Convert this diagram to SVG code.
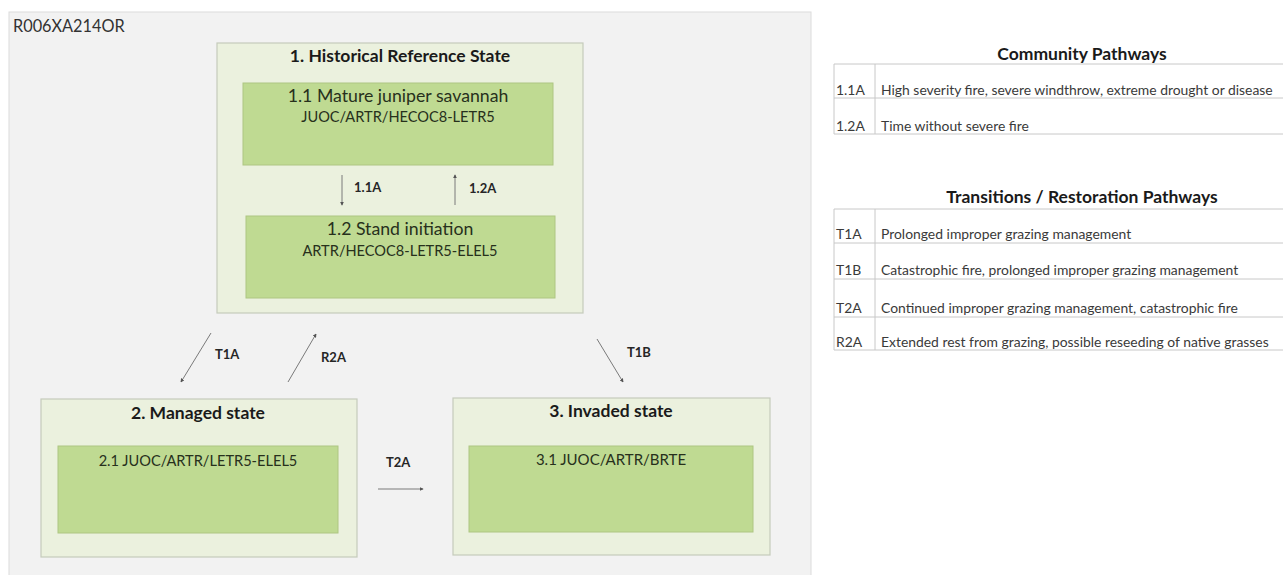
<svg xmlns="http://www.w3.org/2000/svg" width="1283" height="575" viewBox="0 0 1283 575">
<style>
  text { font-family: Lato, "Liberation Sans", sans-serif; }
  .panel { fill: #f2f2f2; stroke: #dcdcdc; stroke-width: 1; }
  .state { fill: #ebf1de; stroke: #c5cbbb; stroke-width: 1.2; }
  .comm { fill: #bfda92; stroke: #aec682; stroke-width: 1; }
  .stitle { font-size: 17.5px; font-weight: bold; fill: #1a1a1a; text-anchor: middle; }
  .ctitle { font-size: 17.7px; fill: #27301c; text-anchor: middle; }
  .csub { font-size: 14.6px; fill: #27301c; text-anchor: middle; }
  .conn { stroke: #7a7a7a; stroke-width: 1; fill: none; marker-end: url(#arr); }
  .clabel { font-size: 13px; font-weight: bold; fill: #262626; }
  .lhead { font-size: 17.5px; font-weight: bold; fill: #1a1a1a; text-anchor: middle; }
  .ltext { font-size: 13.9px; fill: #3a3a3a; }
  .tline { stroke: #c8c8c8; stroke-width: 1; fill: none; }
</style>
<defs>
  <marker id="arr" viewBox="0 0 6 6" refX="5" refY="3" markerWidth="4" markerHeight="4" orient="auto" markerUnits="userSpaceOnUse">
    <path d="M0,0 L6,3 L0,6 z" fill="#555"/>
  </marker>
</defs>
<rect x="0" y="0" width="1283" height="575" fill="#ffffff"/>
<rect class="panel" x="9" y="12" width="802" height="570"/>
<text x="13" y="32" style="font-size:16.3px;fill:#333">R006XA214OR</text>

<g id="state1">
  <rect class="state" x="217" y="43" width="366" height="270"/>
  <text class="stitle" x="400" y="62">1. Historical Reference State</text>
</g>
<g id="c11">
  <rect class="comm" x="243" y="83" width="310" height="82"/>
  <text class="ctitle" x="398" y="102">1.1 Mature juniper savannah</text>
  <text class="csub" x="398" y="122">JUOC/ARTR/HECOC8-LETR5</text>
</g>
<g id="c12">
  <rect class="comm" x="246" y="216" width="309" height="82"/>
  <text class="ctitle" x="400" y="235">1.2 Stand initiation</text>
  <text class="csub" x="400" y="256">ARTR/HECOC8-LETR5-ELEL5</text>
</g>
<g id="state2">
  <rect class="state" x="41" y="399" width="316" height="158"/>
  <text class="stitle" x="198" y="419">2. Managed state</text>
</g>
<g id="c21">
  <rect class="comm" x="58" y="446" width="280" height="87"/>
  <text class="csub" x="198" y="466">2.1 JUOC/ARTR/LETR5-ELEL5</text>
</g>
<g id="state3">
  <rect class="state" x="453" y="398" width="317" height="157"/>
  <text class="stitle" x="611" y="417">3. Invaded state</text>
</g>
<g id="c31">
  <rect class="comm" x="469" y="446" width="284" height="86"/>
  <text class="csub" x="611" y="465" style="font-size:15px">3.1 JUOC/ARTR/BRTE</text>
</g>

<g id="connectors">
  <line class="conn" x1="342" y1="175" x2="342" y2="205"/>
  <line class="conn" x1="455" y1="205" x2="455" y2="175"/>
  <line class="conn" x1="211" y1="333" x2="181" y2="382"/>
  <line class="conn" x1="288" y1="382" x2="316" y2="334"/>
  <line class="conn" x1="597" y1="339" x2="623" y2="382"/>
  <line class="conn" x1="378" y1="489" x2="423" y2="489"/>
  <text class="clabel" x="354" y="192">1.1A</text>
  <text class="clabel" x="469" y="193">1.2A</text>
  <text class="clabel" x="215" y="359">T1A</text>
  <text class="clabel" x="321" y="362">R2A</text>
  <text class="clabel" x="627" y="357">T1B</text>
  <text class="clabel" x="386" y="467">T2A</text>
</g>

<g id="legend-community">
  <text class="lhead" x="1082" y="60">Community Pathways</text>
  <path class="tline" d="M834,64 H1283 M834,98 H1283 M834,134 H1283 M834,64 V134 M875,64 V134"/>
  <text class="ltext" x="836" y="95">1.1A</text>
  <text class="ltext" x="881" y="95">High severity fire, severe windthrow, extreme drought or disease</text>
  <text class="ltext" x="836" y="131">1.2A</text>
  <text class="ltext" x="881" y="131">Time without severe fire</text>
</g>
<g id="legend-transitions">
  <text class="lhead" x="1082" y="203">Transitions / Restoration Pathways</text>
  <path class="tline" d="M834,209 H1283 M834,243 H1283 M834,279 H1283 M834,317 H1283 M834,350 H1283 M834,209 V350 M875,209 V350"/>
  <text class="ltext" x="836" y="239">T1A</text>
  <text class="ltext" x="881" y="239">Prolonged improper grazing management</text>
  <text class="ltext" x="836" y="275">T1B</text>
  <text class="ltext" x="881" y="275">Catastrophic fire, prolonged improper grazing management</text>
  <text class="ltext" x="836" y="313">T2A</text>
  <text class="ltext" x="881" y="313">Continued improper grazing management, catastrophic fire</text>
  <text class="ltext" x="836" y="347">R2A</text>
  <text class="ltext" x="881" y="347">Extended rest from grazing, possible reseeding of native grasses</text>
</g>
</svg>
